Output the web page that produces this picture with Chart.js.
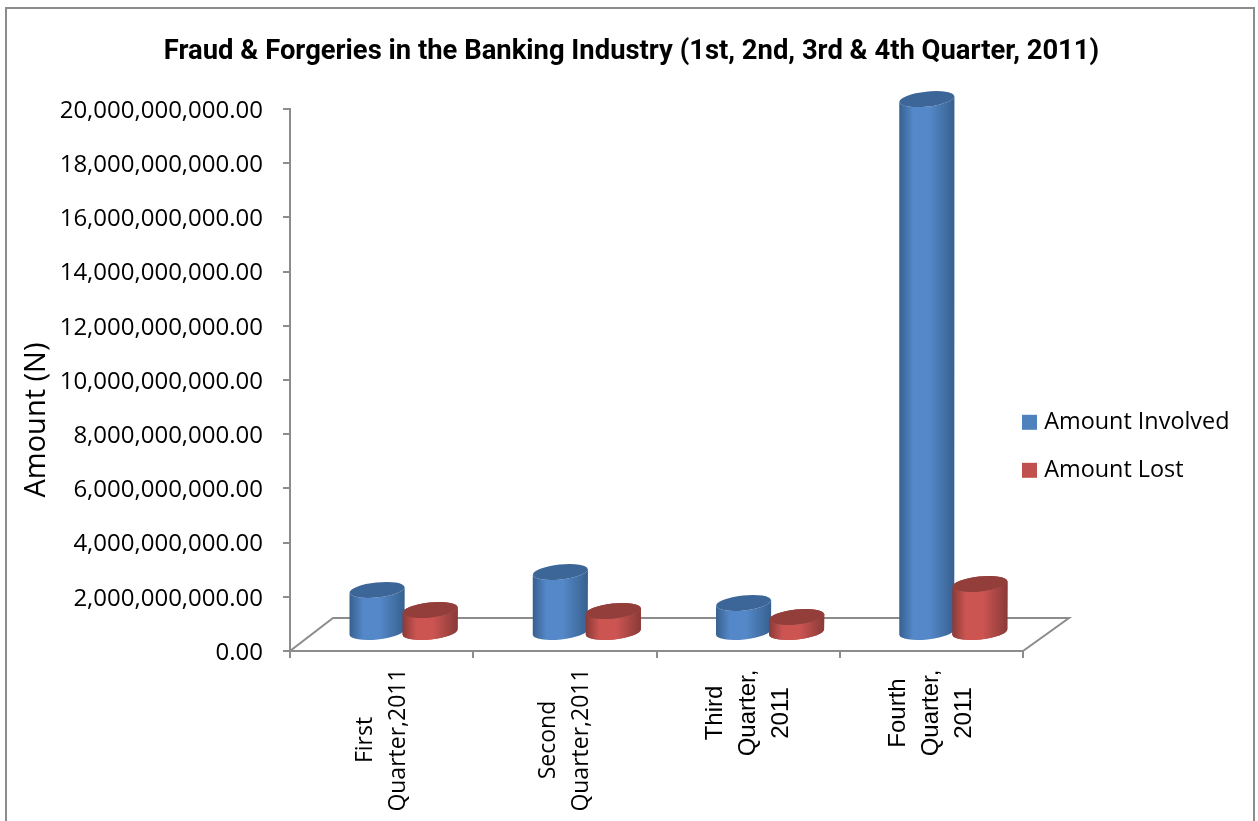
<!DOCTYPE html>
<html><head><meta charset="utf-8">
<style>html,body{margin:0;padding:0;background:#fff;overflow:hidden}canvas{display:block}</style>
<script src="https://cdn.jsdelivr.net/npm/chart.js@4/dist/chart.umd.js"></script>
</head><body><canvas id="c" width="1258" height="821"></canvas>
<script>
const categories = [["First","Quarter,2011"],["Second","Quarter,2011"],["Third","Quarter,","2011"],["Fourth","Quarter,","2011"]];
const amountInvolved = [1.59e9, 2.25e9, 1.11e9, 19.7e9];
const amountLost = [0.85e9, 0.81e9, 0.59e9, 1.81e9];
const chartTitle = "Fraud & Forgeries in the Banking Industry (1st, 2nd, 3rd & 4th Quarter, 2011)";
const yTitle = "Amount (N)";
const FONT = '"Open Sans"';
const GREY = '#8c8c8c';
const shades = {
  '#4f81bd': {edge:'#37608f', mid:'#5488c8', top:'#3c6697'},
  '#c0504d': {edge:'#8a3a38', mid:'#cc5552', top:'#933e3b'}
};
const SHIFT_X = 22, SHIFT_Y = -18, TILT = -6*Math.PI/180, RY = 7.5;

class CylinderElement extends Chart.BarElement {
  draw(ctx){
    const {x,y,base,width} = this.getProps(['x','y','base','width'], true);
    const s = shades[this.options.backgroundColor];
    const cx = x+SHIFT_X, rx = width/2, top = y+SHIFT_Y, bot = base+SHIFT_Y;
    const dy = rx*Math.sin(TILT);
    const g = ctx.createLinearGradient(cx-rx,0,cx+rx,0);
    g.addColorStop(0,s.edge); g.addColorStop(.25,s.mid); g.addColorStop(.55,s.mid); g.addColorStop(1,s.edge);
    ctx.save();
    ctx.beginPath();
    ctx.moveTo(cx-rx, top-dy);
    ctx.lineTo(cx-rx, bot-dy);
    ctx.ellipse(cx,bot,rx,RY,TILT,Math.PI,0,true);
    ctx.lineTo(cx+rx, top+dy);
    ctx.ellipse(cx,top,rx,RY,TILT,0,Math.PI,false);
    ctx.closePath();
    ctx.fillStyle = g; ctx.fill();
    ctx.beginPath();
    ctx.ellipse(cx,top,rx,RY,TILT,0,Math.PI*2);
    ctx.fillStyle = s.top; ctx.fill();
    ctx.restore();
  }
}
CylinderElement.id = 'cylinder';
CylinderElement.defaults = Chart.BarElement.defaults;
class CylinderController extends Chart.BarController {}
CylinderController.id = 'cylinderBar';
CylinderController.defaults = Object.assign({}, Chart.BarController.defaults, {dataElementType:'cylinder'});
CylinderController.overrides = Chart.BarController.overrides;
Chart.register(CylinderElement, CylinderController);

const LEGEND_LEFT = 1001.9, LEGEND_TOP = 386, LEGEND_WIDTH = 235;
const frame = {
  id:'frame',
  beforeLayout(chart){
    const lg = chart.legend;
    if(lg){ const proto = Object.getPrototypeOf(lg); lg.fit = function(){ proto.fit.call(this); this.width = LEGEND_WIDTH; }; }
  },
  beforeDraw(chart){
    const c = chart.ctx;
    c.save();
    c.fillStyle='#fff'; c.fillRect(0,0,chart.width,chart.height);
    c.strokeStyle=GREY; c.lineWidth=2;
    c.strokeRect(6,8,1248,900);
    c.restore();
    chart.legend.left = LEGEND_LEFT; chart.legend.top = LEGEND_TOP;
  },
  beforeDatasetsDraw(chart){
    const c = chart.ctx, xs = chart.scales.x, ys = chart.scales.y, y0 = ys.getPixelForValue(0);
    c.save(); c.strokeStyle=GREY; c.lineWidth=2; c.beginPath();
    c.moveTo(xs.left,y0); c.lineTo(xs.left+43,y0-33); c.lineTo(xs.right+46,y0-33); c.lineTo(xs.right,y0);
    c.stroke(); c.restore();
  },
  afterDatasetsDraw(chart){
    chart.getDatasetMeta(1).data.forEach(el=>el.draw(chart.ctx));
  },
  afterDraw(chart){
    const c = chart.ctx, xs = chart.scales.x;
    c.save(); c.fillStyle='#000'; c.textAlign='center'; c.textBaseline='middle';
    c.save(); c.translate(37,420); c.rotate(-Math.PI/2); c.font='29px '+FONT; c.fillText(yTitle,0,0); c.restore();
    categories.forEach((lines,i)=>{
      const x = xs.getPixelForTick(i), lh = 33, two = lines.length===2;
      c.font = two ? '23px '+FONT : '24px "Liberation Sans"';
      c.save(); c.translate(x, two ? 740 : 713); c.rotate(-Math.PI/2);
      lines.forEach((t,k)=> c.fillText(t,0,(k-(lines.length-1)/2)*lh));
      c.restore();
    });
    c.restore();
  }
};

new Chart(document.getElementById('c'),{
  type:'cylinderBar',
  data:{labels:categories,datasets:[
    {label:'Amount Involved',data:amountInvolved,backgroundColor:'#4f81bd',borderColor:'#4f81bd',borderWidth:9,clip:false,categoryPercentage:.579,barPercentage:1.04},
    {label:'Amount Lost',data:amountLost,backgroundColor:'#c0504d',borderColor:'#c0504d',borderWidth:9,clip:false,categoryPercentage:.579,barPercentage:1.04}
  ]},
  plugins:[frame],
  options:{
    responsive:false,animation:false,
    layout:{padding:{left:5,right:0,top:0,bottom:163}},
    plugins:{
      tooltip:{enabled:false},
      title:{display:true,text:chartTitle,color:'#000',font:{family:'Roboto',size:27.4,weight:'bold',lineHeight:1.2},padding:{top:36,bottom:40.1}},
      legend:{position:'right',align:'start',labels:{boxWidth:6,boxHeight:6,padding:24.6,color:'#000',font:{family:FONT,size:23.4}}}
    },
    scales:{
      x:{type:'category',offset:true,
        grid:{offset:true,drawOnChartArea:false,drawTicks:true,tickLength:7,color:GREY,lineWidth:2},
        border:{color:GREY,width:2},
        ticks:{display:false}},
      y:{type:'linear',min:0,max:20e9,
        afterFit(s){s.width=285;},
        grid:{drawOnChartArea:false,tickLength:7,color:GREY,lineWidth:2},
        border:{color:GREY,width:2},
        ticks:{stepSize:2e9,padding:20,labelOffset:2,color:'#000',font:{family:FONT,size:24},
          callback:v=>v.toLocaleString('en-US',{minimumFractionDigits:2,maximumFractionDigits:2})}}
    }
  }
});
</script></body></html>
